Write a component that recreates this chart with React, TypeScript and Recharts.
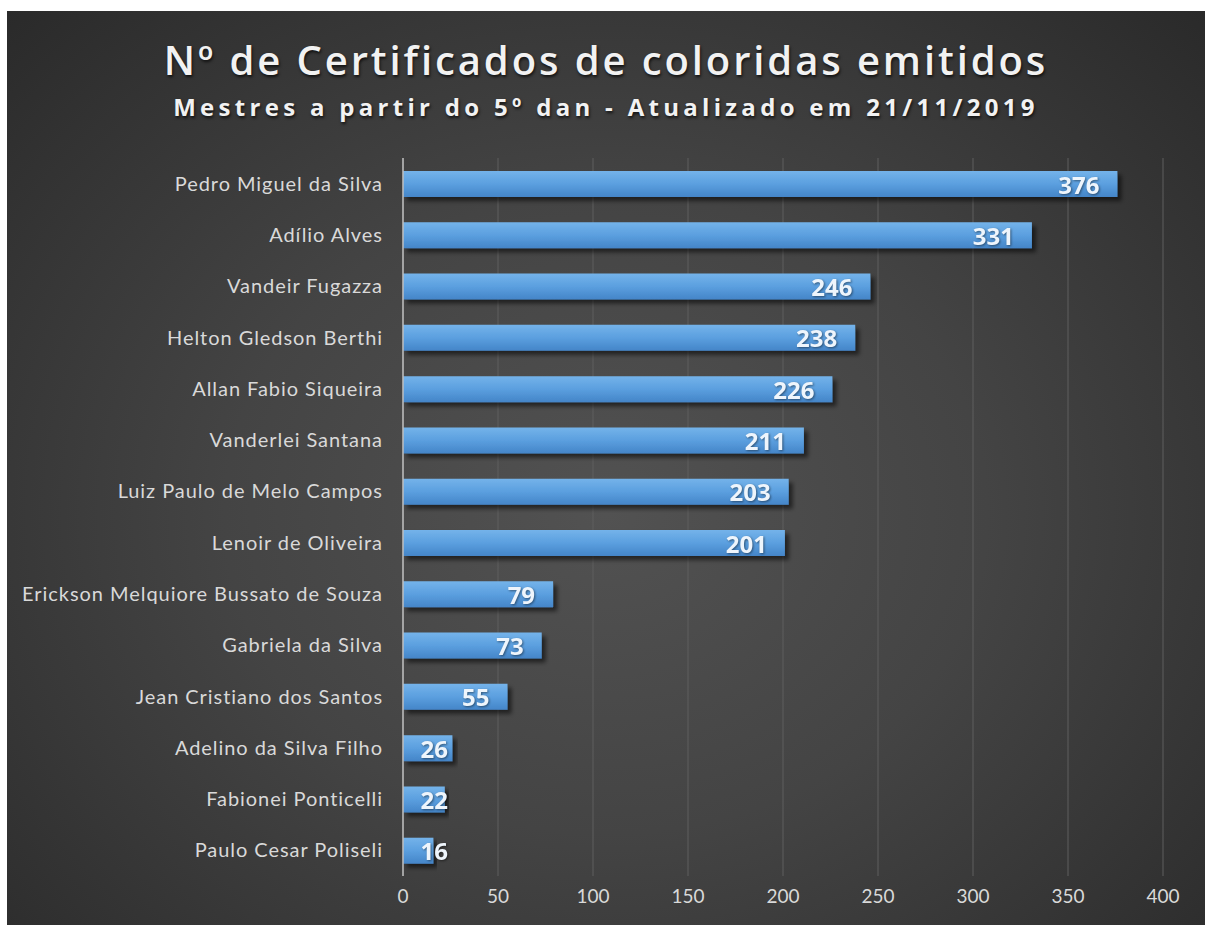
import { Bar, BarChart, CartesianGrid, LabelList, XAxis, YAxis } from "recharts"

const names = [
  "Pedro Miguel da Silva",
  "Adílio Alves",
  "Vandeir Fugazza",
  "Helton Gledson Berthi",
  "Allan Fabio Siqueira",
  "Vanderlei Santana",
  "Luiz Paulo de Melo Campos",
  "Lenoir de Oliveira",
  "Erickson Melquiore Bussato de Souza",
  "Gabriela da Silva",
  "Jean Cristiano dos Santos",
  "Adelino da Silva Filho",
  "Fabionei Ponticelli",
  "Paulo Cesar Poliseli",
]

const certificados = [376, 331, 246, 238, 226, 211, 203, 201, 79, 73, 55, 26, 22, 16]

const xTicks = [0, 50, 100, 150, 200, 250, 300, 350, 400]

const title = "Nº de Certificados de coloridas emitidos"
const subtitle = "Mestres a partir do 5º dan - Atualizado em 21/11/2019"

const data = names.map((name, i) => ({ name, value: certificados[i] }))

const W = 1198
const H = 914

// label sits inside the end of the bar, but never left of the bar start + 16
function ValueLabel(props: any) {
  const { x, y, width, height, value } = props
  const textW = String(value).length * 14.5
  const endX = Math.max(x + width - 18, x + 16 + textW)
  return (
    <text
      x={endX}
      y={y + height / 2}
      textAnchor="end"
      dominantBaseline="central"
      fill="#eef5fc"
      fontSize={24}
      fontWeight={700}
      fontFamily="'Open Sans', sans-serif"
      style={{ filter: "drop-shadow(1px 1px 1px rgba(0,0,0,0.45))" }}
    >
      {value}
    </text>
  )
}

export default function App() {
  return (
    <div
      style={{
        position: "absolute",
        left: 7,
        top: 11,
        width: W,
        height: H,
        background: "radial-gradient(ellipse at 50% 55%, #525252 0%, #444444 45%, #2a2a2a 100%)",
      }}
    >
      <div
        style={{
          position: "absolute",
          top: 22,
          left: 0,
          width: W,
          textAlign: "center",
          fontFamily: "'Open Sans', sans-serif",
          fontWeight: 600,
          fontSize: 40,
          letterSpacing: 2.9,
          color: "#f2f2f2",
          textShadow: "1px 2px 3px rgba(0,0,0,0.7)",
          lineHeight: "54px",
        }}
      >
        {title}
      </div>
      <div
        style={{
          position: "absolute",
          top: 80,
          left: 0,
          width: W,
          textAlign: "center",
          fontFamily: "'Open Sans', sans-serif",
          fontWeight: 700,
          fontSize: 24,
          letterSpacing: 4.3,
          color: "#f2f2f2",
          textShadow: "1px 2px 3px rgba(0,0,0,0.7)",
          lineHeight: "32px",
        }}
      >
        {subtitle}
      </div>
      <BarChart
        width={W}
        height={H}
        data={data}
        layout="vertical"
        margin={{ top: 147, right: 42, bottom: 0, left: 0 }}
        barSize={26}
        style={{ position: "absolute", left: 0, top: 0 }}
      >
        <defs>
          <linearGradient id="barFill" x1="0" y1="0" x2="0" y2="1">
            <stop offset="0%" stopColor="#74b3ea" />
            <stop offset="50%" stopColor="#5b9fdf" />
            <stop offset="100%" stopColor="#4485c8" />
          </linearGradient>
          <filter id="barShadow" x="-5%" y="-30%" width="115%" height="190%">
            <feDropShadow dx="4" dy="4" stdDeviation="2" floodColor="#000" floodOpacity="0.55" />
          </filter>
        </defs>
        <CartesianGrid horizontal={false} stroke="#5e5e5e" strokeWidth={1} />
        <XAxis
          type="number"
          domain={[0, 400]}
          ticks={xTicks}
          axisLine={false}
          tickLine={false}
          tickSize={0}
          tickMargin={14}
          height={49}
          tick={{ fill: "#d9d9d9", fontSize: 19, fontFamily: "Lato, sans-serif" }}
        />
        <YAxis
          type="category"
          dataKey="name"
          width={396}
          tickLine={false}
          tickSize={0}
          tickMargin={20}
          axisLine={{ stroke: "#bfbfbf", strokeWidth: 1.5 }}
          interval={0}
          tick={{ fill: "#d9d9d9", fontSize: 20, fontFamily: "Lato, sans-serif", letterSpacing: 0.95 }}
        />
        <Bar dataKey="value" fill="url(#barFill)" filter="url(#barShadow)" isAnimationActive={false}>
          <LabelList dataKey="value" content={<ValueLabel />} />
        </Bar>
      </BarChart>
    </div>
  )
}
